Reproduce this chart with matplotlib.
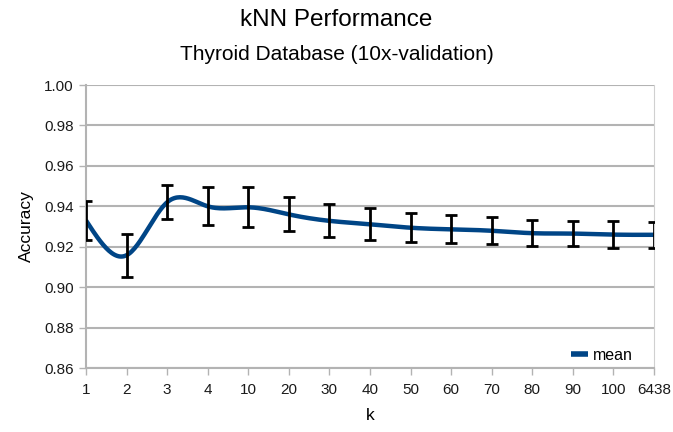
import numpy as np
import matplotlib
matplotlib.use('Agg')
import matplotlib.pyplot as plt

plt.rcParams['font.family'] = ['Liberation Sans', 'DejaVu Sans']

# данные с графика
k_labels = ['1', '2', '3', '4', '10', '20', '30', '40', '50', '60', '70', '80', '90', '100', '6438']
acc_mean = [0.9330, 0.9158, 0.9420, 0.9400, 0.9395, 0.9360, 0.9328, 0.9311,
            0.9294, 0.9286, 0.9279, 0.9267, 0.9265, 0.9260, 0.9259]
acc_err = [0.0097, 0.0107, 0.0084, 0.0094, 0.0099, 0.0084, 0.0082, 0.0079,
           0.0072, 0.0069, 0.0067, 0.0064, 0.0062, 0.0067, 0.0064]


def natural_spline(x, y, n=400):
    # естественный кубический сплайн, как сглаживание в LibreOffice
    x = np.asarray(x, float)
    y = np.asarray(y, float)
    m = len(x)
    h = np.diff(x)
    A = np.zeros((m, m))
    b = np.zeros(m)
    A[0, 0] = 1
    A[-1, -1] = 1
    for i in range(1, m - 1):
        A[i, i - 1] = h[i - 1]
        A[i, i] = 2 * (h[i - 1] + h[i])
        A[i, i + 1] = h[i]
        b[i] = 6 * ((y[i + 1] - y[i]) / h[i] - (y[i] - y[i - 1]) / h[i - 1])
    M = np.linalg.solve(A, b)
    xs = np.linspace(x[0], x[-1], n)
    ys = np.empty_like(xs)
    for j, xv in enumerate(xs):
        i = min(np.searchsorted(x, xv, side='right') - 1, m - 2)
        t1 = x[i + 1] - xv
        t0 = xv - x[i]
        ys[j] = (M[i] * t1 ** 3 + M[i + 1] * t0 ** 3) / (6 * h[i]) \
            + (y[i] / h[i] - M[i] * h[i] / 6) * t1 \
            + (y[i + 1] / h[i] - M[i + 1] * h[i] / 6) * t0
    return xs, ys


pos = np.arange(len(k_labels))
xs, ys = natural_spline(pos, acc_mean)

fig = plt.figure(figsize=(6.73, 4.32), dpi=100)
ax = fig.add_axes([0.1278, 0.1481, 0.8440, 0.6551])

ax.plot(xs, ys, color='#004586', linewidth=3.2, label='mean', zorder=3,
        solid_capstyle='butt')
ax.errorbar(pos, acc_mean, yerr=acc_err, fmt='none', ecolor='black',
            elinewidth=2, capsize=4.3, capthick=2, zorder=4)

ax.set_xlim(0, len(k_labels) - 1)
ax.set_ylim(0.86, 1.00)
ax.set_yticks(np.arange(0.86, 1.001, 0.02))
ax.set_yticklabels(['%.2f' % v for v in np.arange(0.86, 1.001, 0.02)])
ax.set_xticks(pos)
ax.set_xticklabels(k_labels)

ax.grid(True, axis='y', color='#b3b3b3', linewidth=1.5)
ax.set_axisbelow(True)
ax.spines['top'].set_visible(False)
ax.spines['left'].set_color('#b3b3b3')
ax.spines['bottom'].set_color('#b3b3b3')
ax.spines['right'].set_color('#d0d0d0')
ax.spines['left'].set_linewidth(1.5)
ax.spines['bottom'].set_linewidth(1.5)
ax.tick_params(axis='both', colors='#b3b3b3', labelcolor='#1a1a1a', labelsize=11,
               length=5, width=1)
ax.tick_params(axis='y', pad=4)
ax.tick_params(axis='x', pad=6)

ax.set_xlabel('k', fontsize=12.5, labelpad=8)
ax.set_ylabel('Accuracy', fontsize=12.5, labelpad=7)

fig.text(0.5, 1 - 20 / 432, 'kNN Performance', ha='center', va='center', fontsize=17.5)
fig.text(0.5, 1 - 55 / 432, 'Thyroid Database (10x-validation)', ha='center', va='center',
         fontsize=15)

leg = ax.legend(loc='center right', bbox_to_anchor=(0.963, 0.046), frameon=False,
                fontsize=11.5, handlelength=1.1, borderpad=0, borderaxespad=0,
                handletextpad=0.3)
for line in leg.get_lines():
    line.set_linewidth(4)

plt.savefig('out.png', dpi=100)
